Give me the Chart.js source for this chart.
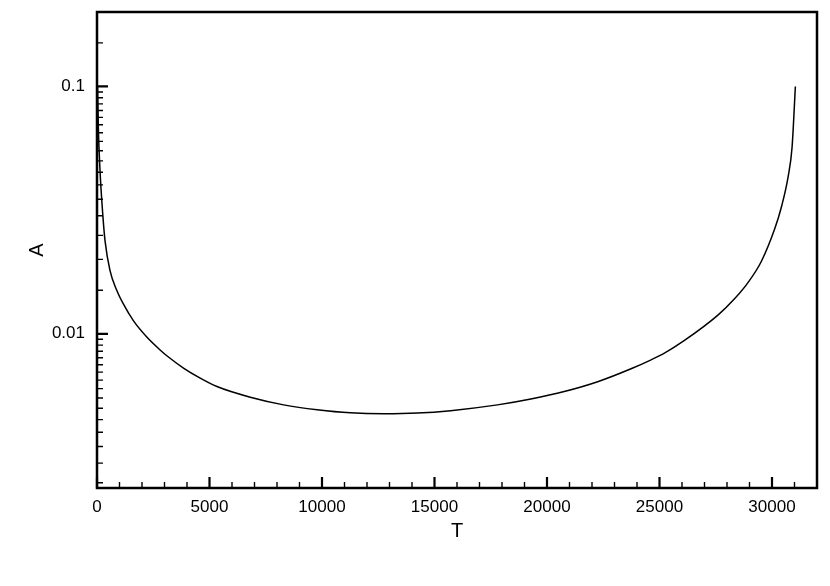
<!DOCTYPE html>
<html>
<head>
<meta charset="utf-8">
<script src="https://cdn.jsdelivr.net/npm/chart.js@4/dist/chart.umd.min.js"></script>
<style>
  html, body { margin: 0; padding: 0; background: #ffffff; }
  #wrap { width: 830px; height: 586px; }
</style>
</head>
<body>
<div id="wrap"><canvas id="c" width="830" height="586"></canvas></div>
<script>
// ---- data ----
const tValues = [25, 60, 134, 254, 356, 579, 877, 1171, 1616, 2213, 2805, 3104, 3843, 4587, 5330, 6813, 8296, 9784, 11266, 12749, 14237, 15720, 17799, 19282, 20765, 22252, 23735, 24626, 25218, 26109, 27596, 28335, 28932, 29524, 30117, 30415, 30714, 30892, 31039];
const aValues = [0.1, 0.068, 0.0457, 0.0306, 0.0238, 0.0180, 0.0150, 0.0132, 0.0113, 0.0097, 0.0086, 0.00815, 0.00727, 0.00662, 0.00612, 0.00554, 0.00516, 0.00493, 0.00479, 0.00475, 0.00478, 0.00489, 0.00516, 0.00545, 0.00584, 0.0064, 0.00722, 0.00785, 0.00835, 0.0094, 0.0119, 0.01385, 0.0161, 0.0196, 0.0265, 0.0325, 0.0430, 0.0568, 0.1];

const xTickLabels = [0, 5000, 10000, 15000, 20000, 25000, 30000];
const yTickLabels = [0.01, 0.1];
const xTitle = 'T';
const yTitle = 'A';

// minor tick positions
const xMinorTicks = [];
for (let v = 1000; v < 32000; v += 1000) if (v % 5000 !== 0) xMinorTicks.push(v);
const yMinorTicks = [];
for (let k = 5; k <= 19; k++) yMinorTicks.push(k * 0.0005);      // 0.0025 .. 0.0095
for (let k = 3; k <= 19; k++) yMinorTicks.push(k * 0.005);       // 0.015 .. 0.095
yMinorTicks.push(0.15);

const FONT = '"Liberation Sans", Arial, Helvetica, sans-serif';

const frameTicks = {
  id: 'frameTicks',
  afterDatasetsDraw(chart) {
    const ctx = chart.ctx;
    const a = chart.chartArea;
    const xs = chart.scales.x, ys = chart.scales.y;
    ctx.save();
    ctx.strokeStyle = '#000';
    ctx.lineCap = 'butt';
    // minor ticks
    ctx.lineWidth = 1.4;
    ctx.beginPath();
    xMinorTicks.forEach(v => {
      const px = xs.getPixelForValue(v);
      ctx.moveTo(px, a.bottom); ctx.lineTo(px, a.bottom - 6);
    });
    yMinorTicks.forEach(v => {
      const py = ys.getPixelForValue(v);
      if (py < a.top + 1 || py > a.bottom - 1) return;
      ctx.moveTo(a.left, py); ctx.lineTo(a.left + 6, py);
    });
    ctx.stroke();
    // major ticks
    ctx.lineWidth = 2.2;
    ctx.beginPath();
    xTickLabels.forEach(v => {
      const px = xs.getPixelForValue(v);
      ctx.moveTo(px, a.bottom); ctx.lineTo(px, a.bottom - 11);
    });
    yTickLabels.forEach(v => {
      const py = ys.getPixelForValue(v);
      ctx.moveTo(a.left, py); ctx.lineTo(a.left + 11, py);
    });
    ctx.stroke();
    // frame
    ctx.lineWidth = 2.5;
    ctx.strokeRect(a.left, a.top, a.right - a.left, a.bottom - a.top);
    ctx.restore();
  }
};

new Chart(document.getElementById('c'), {
  type: 'line',
  data: {
    datasets: [{
      data: tValues.map((t, i) => ({ x: t, y: aValues[i] })),
      borderColor: '#000',
      borderWidth: 1.5,
      pointRadius: 0,
      fill: false,
      cubicInterpolationMode: 'monotone'
    }]
  },
  options: {
    responsive: false,
    animation: false,
    devicePixelRatio: 1,
    layout: { padding: { left: 0, right: 13, top: 12, bottom: 0 } },
    plugins: { legend: { display: false }, tooltip: { enabled: false } },
    scales: {
      x: {
        type: 'linear',
        min: 0,
        max: 32000,
        bounds: 'data',
        grid: { display: false, drawTicks: false },
        border: { display: false },
        afterBuildTicks: s => { s.ticks = xTickLabels.map(v => ({ value: v })); },
        afterFit: s => { s.height = 98; s.paddingLeft = 0; s.paddingRight = 0; },
        ticks: {
          autoSkip: false,
          maxRotation: 0,
          padding: 9,
          color: '#000',
          font: { family: FONT, size: 17 },
          callback: v => String(v)
        },
        title: {
          display: true,
          text: xTitle,
          color: '#000',
          font: { family: FONT, size: 20 },
          padding: { top: 0, bottom: 42.5 }
        }
      },
      y: {
        type: 'logarithmic',
        min: 0.00238,
        max: 0.2,
        bounds: 'data',
        grid: { display: false, drawTicks: false },
        border: { display: false },
        afterBuildTicks: s => { s.ticks = yTickLabels.map(v => ({ value: v })); },
        afterFit: s => { s.width = 97; s.paddingTop = 0; s.paddingBottom = 0; },
        ticks: {
          autoSkip: false,
          padding: 12,
          color: '#000',
          font: { family: FONT, size: 17 },
          callback: v => String(v)
        },
        title: {
          display: true,
          text: yTitle,
          color: '#000',
          font: { family: FONT, size: 20 },
          padding: { top: 25.5, bottom: 0 }
        }
      }
    }
  },
  plugins: [frameTicks]
});
</script>
</body>
</html>
